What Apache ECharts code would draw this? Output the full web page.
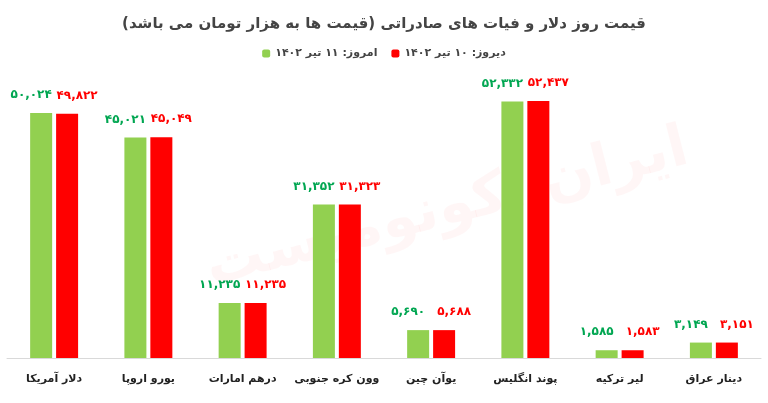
<!DOCTYPE html>
<html>
<head>
<meta charset="utf-8">
<script src="https://cdn.jsdelivr.net/npm/echarts@6/dist/echarts.min.js"></script>
<style>html,body{margin:0;padding:0;background:#fff}#chart{width:768px;height:403px}</style>
</head>
<body>
<div id="chart"></div>
<script>
// Data
var categories = ['دلار آمریکا', 'یورو اروپا', 'درهم امارات', 'وون کره جنوبی', 'یوآن چین', 'پوند انگلیس', 'لیر ترکیه', 'دینار عراق'];
var todayValues = [50024, 45021, 11235, 31352, 5690, 52332, 1585, 3149];
var yesterdayValues = [49822, 45049, 11235, 31323, 5688, 52437, 1583, 3151];
var todayName = 'امروز: ۱۱ تیر ۱۴۰۲';
var yesterdayName = 'دیروز: ۱۰ تیر ۱۴۰۲';
var font = 'DejaVu Sans';

function FaDigits(v) {	// Formats number with Persian digits
	var s = v.toLocaleString('en-US');
	return s.replace(/[0-9]/g, function(d) { return '۰۱۲۳۴۵۶۷۸۹'[d]; });
}

var chart = echarts.init(document.getElementById('chart'), '', { renderer: 'canvas' });
chart.setOption({
	title: {
		text: 'قیمت روز دلار و فیات های صادراتی (قیمت ها به هزار تومان می باشد)',
		left: 'center',
		top: 12,
		textStyle: { fontFamily: font, fontSize: 15, fontWeight: 'bold', color: '#444' }
	},
	legend: {
		data: [todayName, yesterdayName],
		top: 43,
		left: 'center',
		itemWidth: 8,
		itemHeight: 8,
		itemGap: 14,
		textStyle: { fontFamily: font, fontSize: 11, fontWeight: 'bold', color: '#444' }
	},
	graphic: [{
		type: 'text',
		left: 200,
		top: 120,
		rotation: 0.25,
		style: { text: 'ایران اکونومیست', font: 'bold 58px "DejaVu Sans"', fill: 'rgba(255,0,0,0.035)' }
	}],
	grid: { left: 7, right: 7, top: 64, bottom: 45 },
	xAxis: {
		type: 'category',
		data: categories,
		axisTick: { show: false },
		axisLine: { lineStyle: { color: '#d9d9d9' } },
		axisLabel: { interval: 0, fontFamily: font, fontSize: 11, fontWeight: 'bold', color: '#222', margin: 16 }
	},
	yAxis: {
		type: 'value',
		min: 0,
		max: 60000,
		show: false,
		splitLine: { show: false }
	},
	series: [{
		name: todayName,
		type: 'bar',
		data: todayValues,
		barWidth: 22,
		barGap: '18%',
		itemStyle: { color: '#92d050' },
		label: {
			show: true, position: 'top', distance: 12, offset: [-10, 0],
			fontFamily: font, fontSize: 12, fontWeight: 'bold', color: '#00a651',
			formatter: function(p) { return FaDigits(p.value); }
		}
	}, {
		name: yesterdayName,
		type: 'bar',
		data: yesterdayValues,
		barWidth: 22,
		itemStyle: { color: '#ff0000' },
		label: {
			show: true, position: 'top', distance: 12, offset: [10, 0],
			fontFamily: font, fontSize: 12, fontWeight: 'bold', color: '#ff0000',
			formatter: function(p) { return FaDigits(p.value); }
		}
	}]
});
</script>
</body>
</html>
